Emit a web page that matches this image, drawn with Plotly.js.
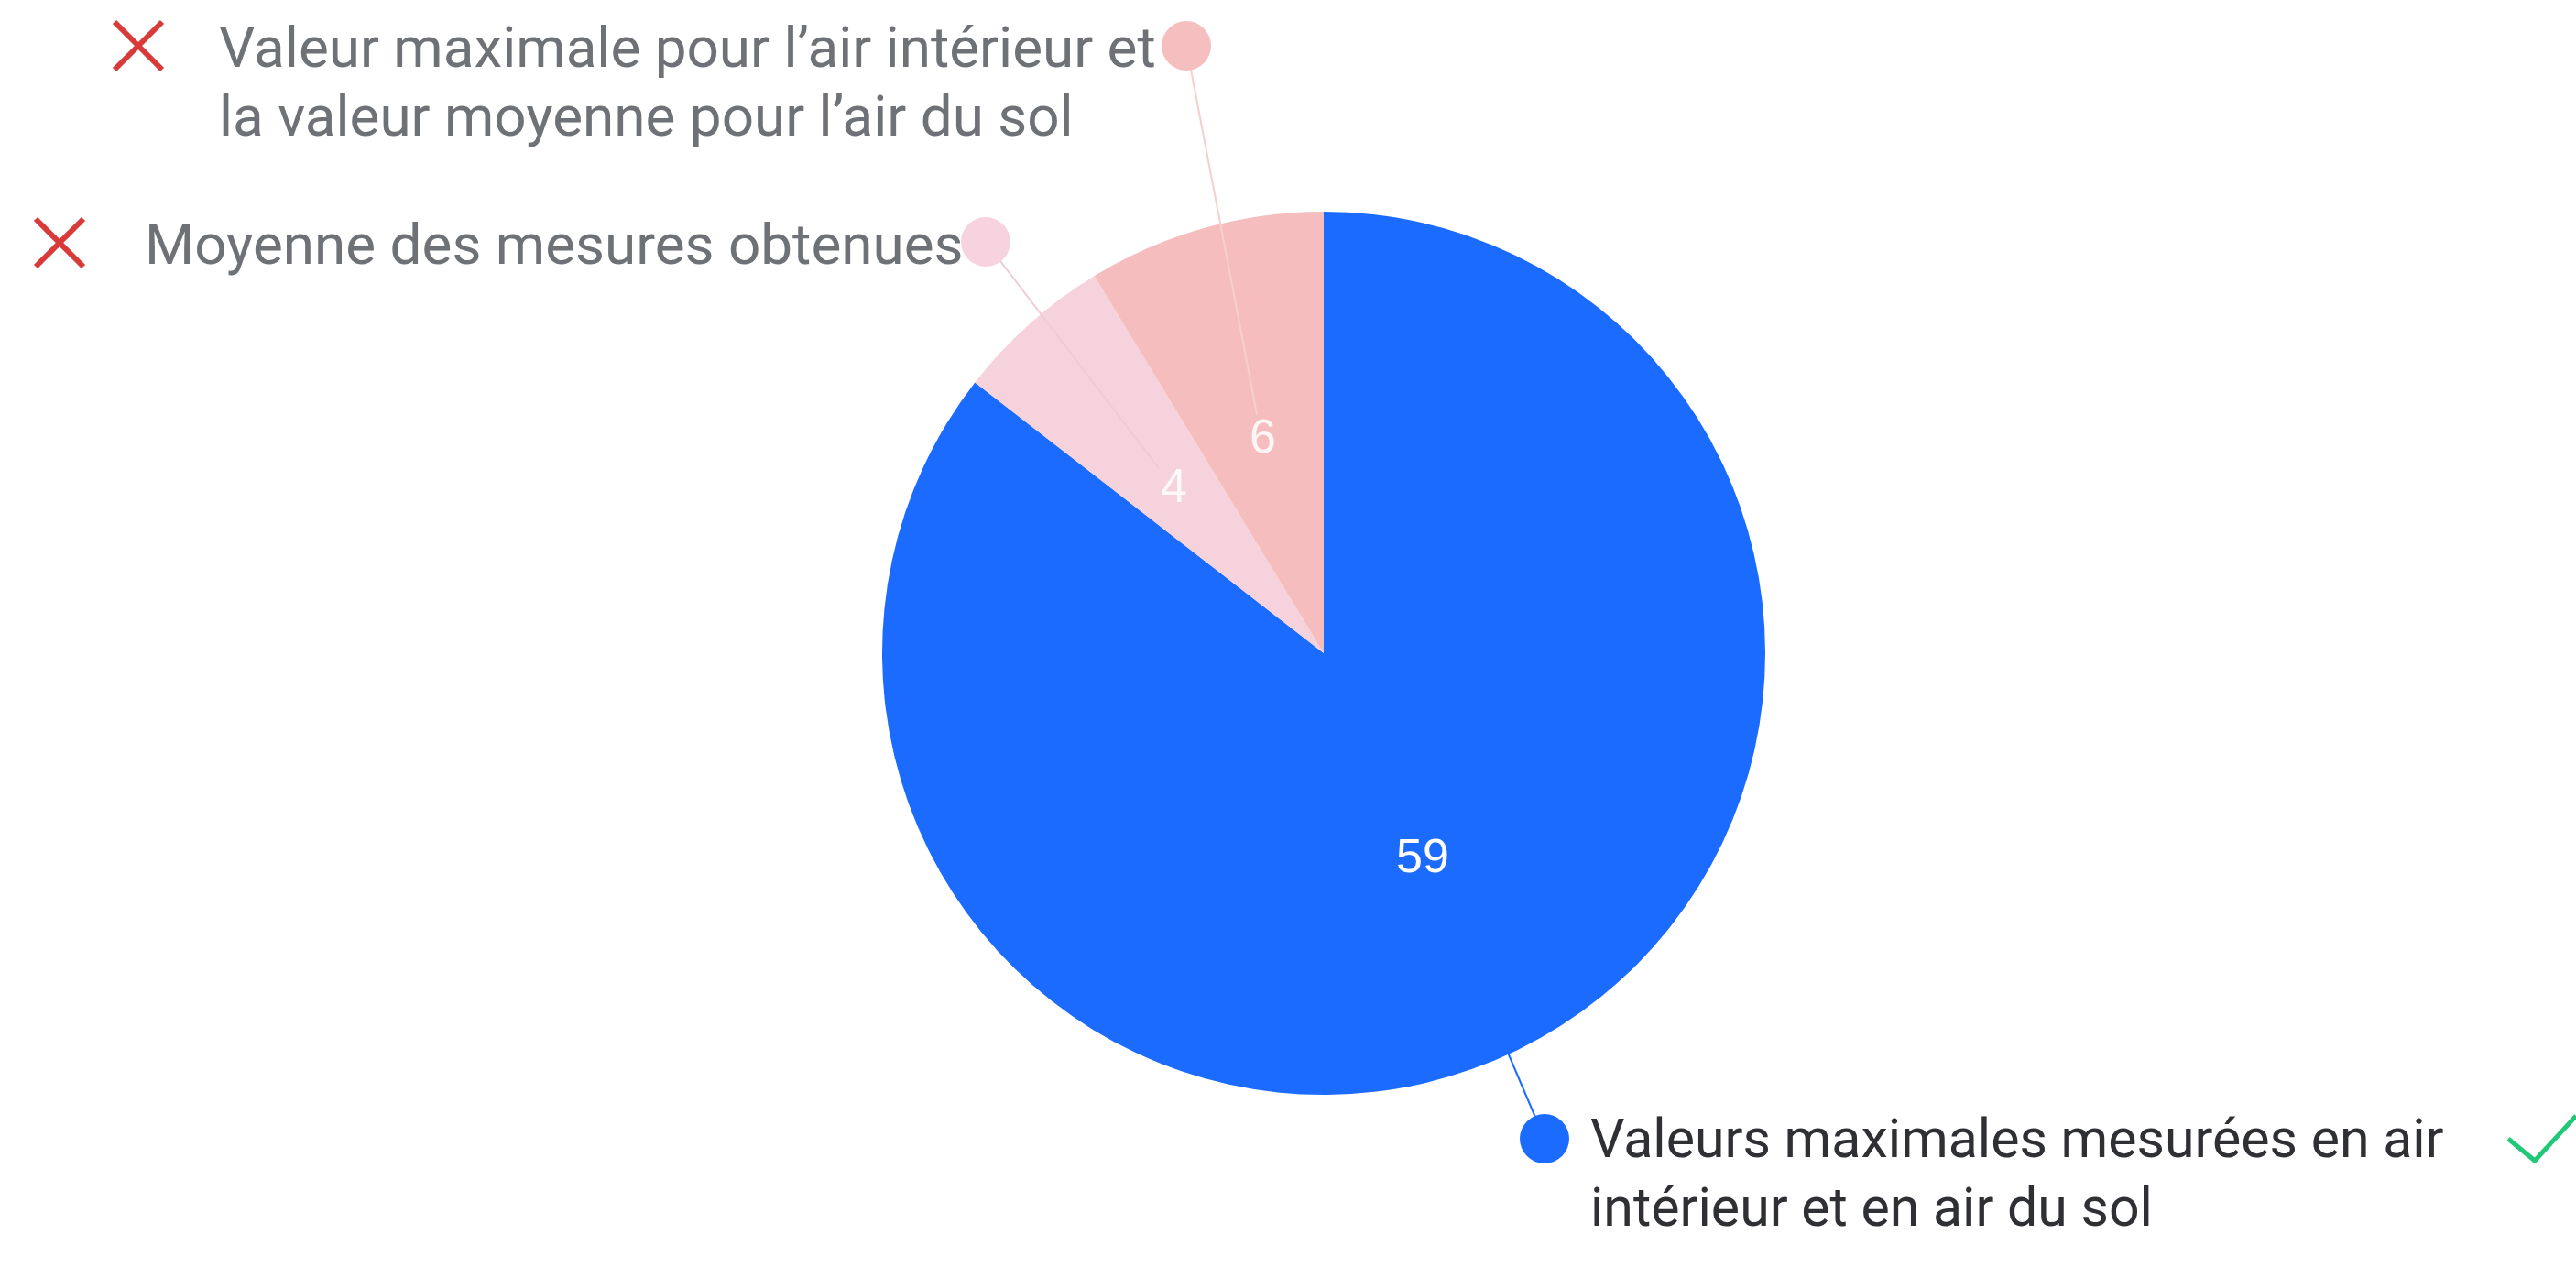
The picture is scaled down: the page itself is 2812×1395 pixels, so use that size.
<!DOCTYPE html>
<html>
<head>
<meta charset="utf-8">
<script src="https://cdn.plot.ly/plotly-3.0.1.min.js"></script>
<style>
  html, body { margin: 0; padding: 0; background: #ffffff; }
  #chart { width: 2812px; height: 1395px; }
</style>
</head>
<body>
<div id="chart"></div>
<script>
// ---- Data ----
const categories = [
  "Valeurs maximales mesurées en air intérieur et en air du sol",
  "Moyenne des mesures obtenues",
  "Valeur maximale pour l’air intérieur et la valeur moyenne pour l’air du sol"
];
const values = [59, 4, 6];
const labelLines = [
  ["Valeurs maximales mesurées en air", "intérieur et en air du sol"],
  ["Moyenne des mesures obtenues"],
  ["Valeur maximale pour l’air intérieur et", "la valeur moyenne pour l’air du sol"]
];

// ---- Styles ----
const sliceColors = ["#1c6bff", "#f6d2dd", "#f5bdbd"];
const dotColors = ["#1c6bff", "#f7d3df", "#f6bfbf"];
const connectorColors = ["#1c6bff", "#efcbd6", "#f6cfcf"];
const labelColors = ["#2f3034", "#6e7176", "#6e7176"];
const labelSizes = [59, 62, 62];
const numberColors = ["#ffffff", "rgba(255,255,255,0.85)", "rgba(255,255,255,0.85)"];

// ---- Layout geometry (pixels) ----
const W = 2812, H = 1395;
const CX = 1445, CY = 713, R = 482;
const LINE_GAP = 75;     // baseline-to-baseline
const labelAnchors = [[1734, 1262], [156, 287], [237, 72]];
const dotCenters = [[1686, 1243], [1076, 264], [1295, 50]];
const DOT_R = 27;
const crossCenters = [[65, 265], [151, 50]];

const px = x => x / W;
const py = y => 1 - y / H;

const total = values.reduce((a, b) => a + b, 0);
const midAngles = [];
{
  let cum = 0;
  values.forEach(v => { midAngles.push((cum + v / 2) / total * 2 * Math.PI); cum += v; });
}
function polar(i, f) {
  const a = midAngles[i];
  return [CX + f * R * Math.sin(a), CY - f * R * Math.cos(a)];
}

const pie = {
  type: "pie",
  labels: categories,
  values: values,
  sort: false,
  direction: "clockwise",
  rotation: 0,
  textinfo: "none",
  textposition: "none",
  hoverinfo: "label+value",
  marker: { colors: sliceColors, line: { width: 0 } },
  domain: { x: [(CX - R) / W, (CX + R) / W], y: [(H - CY - R) / H, (H - CY + R) / H] },
  showlegend: false
};

const annotations = [];
const shapes = [];

values.forEach((v, i) => {
  const [lx, ly] = polar(i, 0.51);
  annotations.push({
    xref: "paper", yref: "paper", x: px(lx), y: py(ly),
    text: String(v), showarrow: false, xanchor: "center", yanchor: "middle",
    font: { family: "Liberation Sans, Arial, sans-serif", size: 52, color: numberColors[i] }
  });
  const [ex, ey] = polar(i, 0.56);
  const [dx, dy] = dotCenters[i];
  shapes.push({
    type: "line", xref: "paper", yref: "paper", layer: "above",
    x0: px(dx), y0: py(dy), x1: px(ex), y1: py(ey),
    line: { color: connectorColors[i], width: 2 }
  });
  shapes.push({
    type: "circle", xref: "paper", yref: "paper", layer: "above",
    xsizemode: "pixel", ysizemode: "pixel",
    xanchor: px(dx), yanchor: py(dy),
    x0: -DOT_R, x1: DOT_R, y0: -DOT_R, y1: DOT_R,
    fillcolor: dotColors[i], line: { width: 0 }
  });
  const [ax, ay] = labelAnchors[i];
  const fs = labelSizes[i];
  labelLines[i].forEach((t, k) => {
    const base = ay + k * LINE_GAP;
    annotations.push({
      xref: "paper", yref: "paper", x: px(ax), y: py(base - 0.33 * fs),
      text: t, showarrow: false, xanchor: "left", yanchor: "middle",
      font: { family: "Roboto, sans-serif", size: fs, color: labelColors[i] }
    });
  });
});

crossCenters.forEach(([cx, cy]) => {
  const h = 26;
  [[-1, -1, 1, 1], [-1, 1, 1, -1]].forEach(d => {
    shapes.push({
      type: "line", xref: "paper", yref: "paper", layer: "above",
      x0: px(cx + d[0] * h), y0: py(cy + d[1] * h), x1: px(cx + d[2] * h), y1: py(cy + d[3] * h),
      line: { color: "#d83a3a", width: 6 }
    });
  });
});
shapes.push({
  type: "path", xref: "paper", yref: "paper", layer: "above",
  path: `M ${px(2738)} ${py(1243)} L ${px(2767)} ${py(1267)} L ${px(2812)} ${py(1218)}`,
  line: { color: "#20c878", width: 5 }
});

const layout = {
  width: W, height: H,
  margin: { l: 0, r: 0, t: 0, b: 0 },
  paper_bgcolor: "#ffffff",
  plot_bgcolor: "#ffffff",
  showlegend: false,
  annotations: annotations,
  shapes: shapes
};

Plotly.newPlot("chart", [pie], layout, { displayModeBar: false, staticPlot: true });
</script>
</body>
</html>
